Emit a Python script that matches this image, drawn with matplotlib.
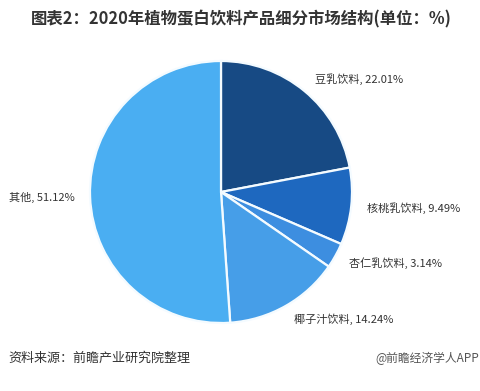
import matplotlib.pyplot as plt

plt.rcParams['font.family'] = ['Noto Sans CJK SC', 'DejaVu Sans']

# data
categories = ['豆乳饮料', '核桃乳饮料', '杏仁乳饮料', '椰子汁饮料', '其他']
shares = [22.01, 9.49, 3.14, 14.24, 51.12]
colors = ['#174a84', '#1e68bf', '#3d8ee0', '#469ee8', '#4aaef2']

title = '图表2：2020年植物蛋白饮料产品细分市场结构(单位：%)'
source = '资料来源：前瞻产业研究院整理'
brand = '@前瞻经济学人APP'


def main():
    W, H = 481, 391
    fig = plt.figure(figsize=(W / 100, H / 100), dpi=100)

    # pie axes: centre (221,192) px, radius 131 px
    cx, cy, r = 221, 192, 131
    ax = fig.add_axes([(cx - r) / W, (H - cy - r) / H, 2 * r / W, 2 * r / H])
    labels = [f'{c}, {v:.2f}%' for c, v in zip(categories, shares)]
    wedges, texts = ax.pie(shares, colors=colors, startangle=90, counterclock=False,
                           labels=labels, labeldistance=1.12,
                           wedgeprops=dict(edgecolor='#f4fbff', linewidth=1.6),
                           textprops=dict(fontsize=8, color='#333333'))
    ax.set_xlim(-1, 1)
    ax.set_ylim(-1, 1)
    ax.set_aspect('equal')

    fig.text(241 / W, 1 - 19 / H, title, ha='center', va='center',
             fontsize=11.8, fontweight='bold', color='#333333')
    fig.text(8 / W, 1 - 358 / H, source, ha='left', va='center',
             fontsize=9.4, color='#333333')
    fig.text(1 - 2 / W, 1 - 358 / H, brand, ha='right', va='center',
             fontsize=8.5, color='#555555')

    fig.savefig('out.png', dpi=100)


if __name__ == "__main__":
    main()
